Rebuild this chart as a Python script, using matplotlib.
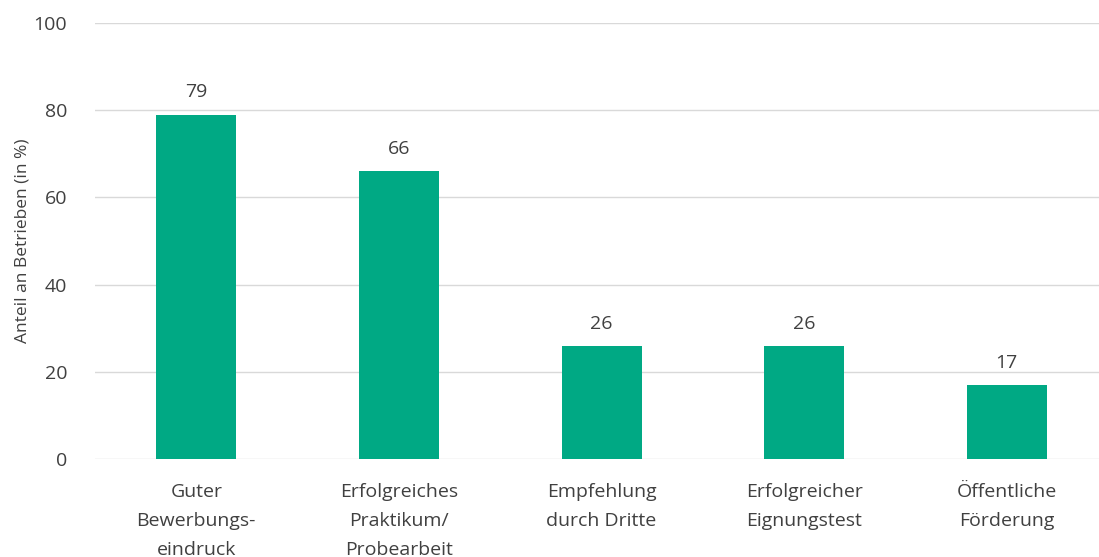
import matplotlib.pyplot as plt

categories = ["Guter\nBewerbungs-\neindruck", "Erfolgreiches\nPraktikum/\nProbearbeit",
              "Empfehlung\ndurch Dritte", "Erfolgreicher\nEignungstest", "Öffentliche\nFörderung"]
values = [79, 66, 26, 26, 17]
yticks = [0, 20, 40, 60, 80, 100]

plt.rcParams['font.family'] = ['Open Sans', 'DejaVu Sans']
txt = "#404040"

fig = plt.figure(figsize=(10.99, 5.57), dpi=100)
ax = fig.add_axes([95 / 1099, 1 - 459 / 557, 1 - 95 / 1099, (459 - 23) / 557])

x = range(len(values))
bars = ax.bar(x, values, width=0.395, color="#00A984", zorder=3)
for xi, v in zip(x, values):
    ax.text(xi, v + 3, str(v), ha="center", va="bottom", fontsize=14, color=txt)

ax.set_xlim(-0.5, 4.455)
ax.set_ylim(0, 100)
ax.set_yticks(yticks)
ax.set_xticks(list(x))
ax.set_xticklabels(categories, fontsize=14, color=txt, linespacing=1.8)
ax.tick_params(axis="y", labelsize=14, labelcolor=txt, length=0, pad=20)
ax.tick_params(axis="x", length=0, pad=17)
ax.yaxis.grid(True, color="#D9D9D9", linewidth=1, zorder=0)
for s in ax.spines.values():
    s.set_visible(False)
ax.set_ylabel("Anteil an Betrieben (in %)", fontsize=12.5, color=txt, labelpad=2)

fig.savefig("out.png", dpi=100)
